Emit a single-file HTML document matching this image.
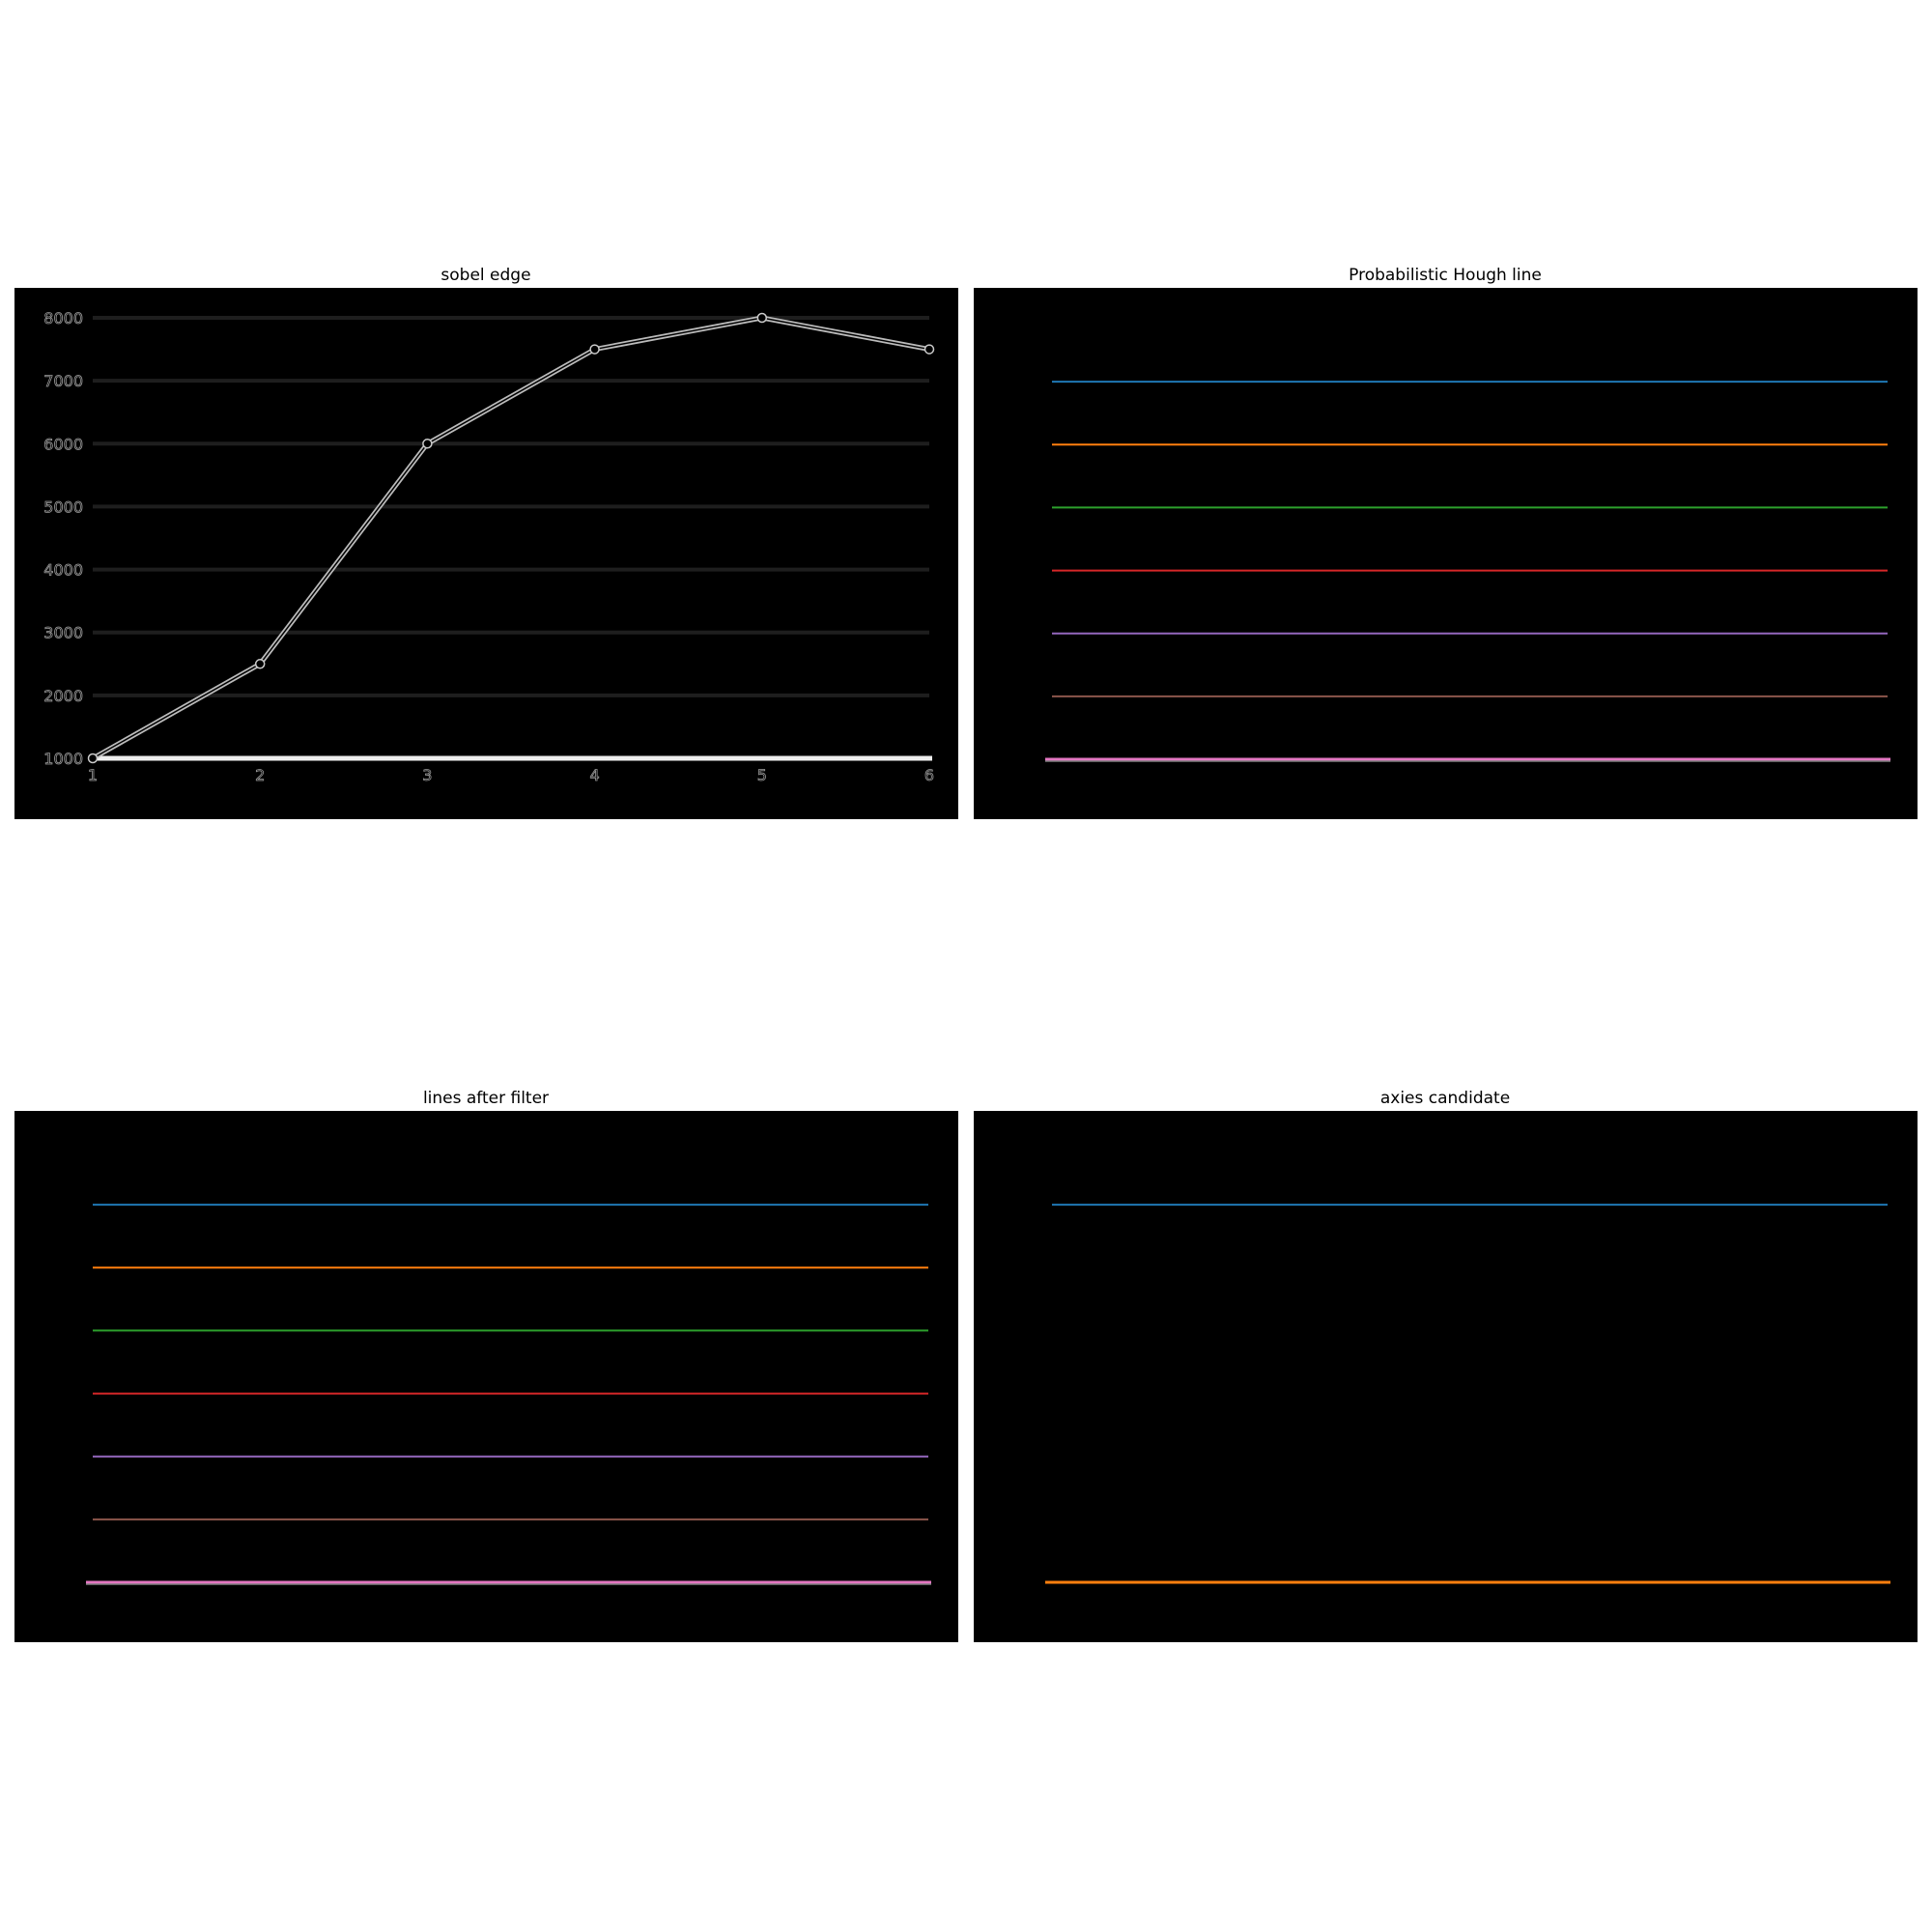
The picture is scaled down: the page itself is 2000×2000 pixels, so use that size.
<!DOCTYPE html>
<html><head><meta charset="utf-8"><style>
html,body{margin:0;padding:0;background:#fff;}
svg{display:block;font-family:"DejaVu Sans","Liberation Sans",sans-serif;}
</style></head><body>
<svg id="fig" width="2000" height="2000" viewBox="0 0 2000 2000">
<rect width="2000" height="2000" fill="#fff"/>
<g id="panels"></g>
</svg>
<script>
const xCats = [1,2,3,4,5,6];
const sobelValues = [1000,2500,6000,7500,8000,7500];
const yTicks = [1000,2000,3000,4000,5000,6000,7000,8000];
const houghLevels = [7000,6000,5000,4000,3000,2000,1000];
const filterLevels = [7000,6000,5000,4000,3000,2000,1000];
const candidateLevels = [7000,1000];
const colors = ['#1f77b4','#ff7f0e','#2ca02c','#d62728','#9467bd','#8c564b','#e377c2'];

const NS='http://www.w3.org/2000/svg';
const root=document.getElementById('panels');
function mk(tag,attrs,parent){const e=document.createElementNS(NS,tag);for(const k in attrs)e.setAttribute(k,attrs[k]);(parent||root).appendChild(e);return e;}
const xs=v=>96+(v-1)*(962-96)/5;
const ys=v=>785-(v-1000)*(785-329)/7000;
const panels=[{x:15,y:298,t:'sobel edge'},{x:1008,y:298,t:'Probabilistic Hough line'},{x:15,y:1150,t:'lines after filter'},{x:1008,y:1150,t:'axies candidate'}];
panels.forEach((p,i)=>{
  const g=mk('g',{transform:`translate(${p.x-15},${p.y-298})`});
  
  
  const bg=mk('rect',{x:15,y:298,width:977,height:550,fill:'#000'},g);
  
  
  const t=mk('text',{x:503,y:290,'text-anchor':'middle','font-size':17,fill:'#000'},g);
  t.textContent=p.t;
  
  
  p.g=g;
});
const g0=panels[0].g;
yTicks.forEach(v=>{
  if(v>1000){const l=mk('line',{x1:96,x2:962,y1:ys(v),y2:ys(v),stroke:'#1e1e1e','stroke-width':4},g0);
  
  }
  const t=mk('text',{x:86,y:ys(v)+6,'text-anchor':'end','font-size':16,fill:'#000',stroke:'#9a9a9a','stroke-width':0.8},g0);
  t.textContent=v;
  
  
});
const base=mk('line',{x1:92,x2:965,y1:ys(1000),y2:ys(1000),stroke:'#eee','stroke-width':5},g0);


xCats.forEach(c=>{
  const t=mk('text',{x:xs(c),y:808,'text-anchor':'middle','font-size':16,fill:'#000',stroke:'#9a9a9a','stroke-width':0.8},g0);
  t.textContent=c;
  
  
});
const pts=xCats.map((c,i)=>xs(c)+','+ys(sobelValues[i])).join(' ');
const l1=mk('polyline',{points:pts,fill:'none',stroke:'#bbb','stroke-width':5},g0);


const l2=mk('polyline',{points:pts,fill:'none',stroke:'#000','stroke-width':1.5},g0);


xCats.forEach((c,i)=>{
  const m=mk('circle',{cx:xs(c),cy:ys(sobelValues[i]),r:4.5,fill:'#000',stroke:'#ccc','stroke-width':1.5},g0);
  
  
});
function hlines(g,levels,lastGray){
  levels.forEach((v,i)=>{
    const last=v===1000;
    const l=mk('line',{x1:last?89:96,x2:last?964:961,y1:ys(v)+1,y2:ys(v)+1,stroke:colors[i%colors.length],'stroke-width':last?3:2},g);
    
    
    if(last&&lastGray){const l2=mk('line',{x1:89,x2:964,y1:ys(v)+3,y2:ys(v)+3,stroke:'#7f7f7f','stroke-width':1.5},g);
    
    }
  });
}
hlines(panels[1].g,houghLevels,true);
hlines(panels[2].g,filterLevels,true);
hlines(panels[3].g,candidateLevels,false);
</script>
</body></html>
